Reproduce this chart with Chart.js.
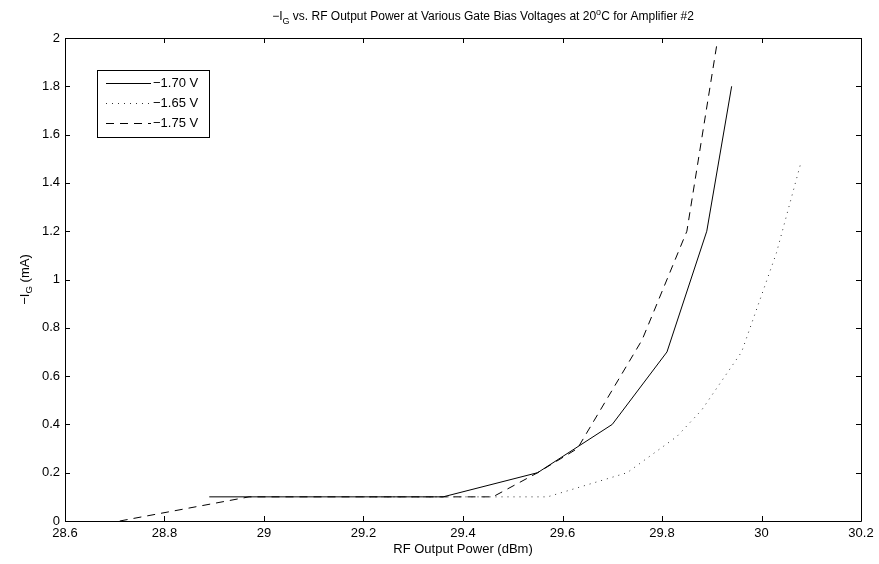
<!DOCTYPE html>
<html>
<head>
<meta charset="utf-8">
<script src="https://cdn.jsdelivr.net/npm/chart.js@4"></script>
<style>
  html, body { margin: 0; padding: 0; background: #ffffff; }
  #chart { display: block; }
</style>
</head>
<body>
<canvas id="chart" width="879" height="564"></canvas>
<script>
// -1.70 V gate bias (solid)
const powerBias170 = [28.89, 29.36, 29.55, 29.70, 29.81, 29.89, 29.94]
const currentBias170 = [0.1, 0.1, 0.2, 0.4, 0.7, 1.2, 1.8]

// -1.65 V gate bias (dotted)
const powerBias165 = [29.2, 29.57, 29.73, 29.83, 29.88, 29.96, 30.03, 30.08]
const currentBias165 = [0.1, 0.1, 0.2, 0.35, 0.46, 0.7, 1.11, 1.49]

// -1.75 V gate bias (dashed)
const powerBias175 = [28.71, 28.97, 29.46, 29.55, 29.63, 29.76, 29.85, 29.91]
const currentBias175 = [0, 0.1, 0.1, 0.2, 0.3, 0.75, 1.2, 1.97]

const seriesLabels = ["\u22121.70 V", "\u22121.65 V", "\u22121.75 V"]
const xTicks = [28.6, 28.8, 29, 29.2, 29.4, 29.6, 29.8, 30, 30.2]
const yTicks = [0, 0.2, 0.4, 0.6, 0.8, 1, 1.2, 1.4, 1.6, 1.8, 2]

const toPoints = (xs, ys) => xs.map((x, i) => ({ x: x, y: ys[i] }))

const FONT = "'Liberation Sans', Arial, Helvetica, sans-serif"

// draws text made of pieces, some of them sub- or superscript
function richWidth(ctx, parts, size) {
  let w = 0
  parts.forEach((p) => {
    const s = p.sub || p.sup ? size * 0.75 : size
    ctx.font = s + "px " + FONT
    w += ctx.measureText(p.t).width
  })
  return w
}

function drawRich(ctx, parts, x, y, size) {
  let cx = x
  parts.forEach((p) => {
    const s = p.sub || p.sup ? size * 0.75 : size
    let dy = 0
    if (p.sub) dy = size * 0.3
    if (p.sup) dy = -size * 0.4
    ctx.font = s + "px " + FONT
    ctx.fillText(p.t, cx, y + dy)
    cx += ctx.measureText(p.t).width
  })
}

const titleParts = [
  { t: "\u2212I" },
  { t: "G", sub: true },
  { t: " vs. RF Output Power at Various Gate Bias Voltages at 20" },
  { t: "o", sup: true },
  { t: "C for Amplifier #2" },
]
const yTitleParts = [{ t: "\u2212I" }, { t: "G", sub: true }, { t: " (mA)" }]
const xTitle = "RF Output Power (dBm)"

const matlabFrame = {
  id: "matlabFrame",
  afterDraw(chart) {
    const ctx = chart.ctx
    const a = chart.chartArea
    const xs = chart.scales.x
    const ys = chart.scales.y
    ctx.save()
    ctx.strokeStyle = "#000000"
    ctx.lineWidth = 1
    ctx.beginPath()
    ctx.rect(Math.round(a.left) + 0.5, Math.round(a.top) + 0.5,
      Math.round(a.right - a.left), Math.round(a.bottom - a.top))
    ctx.stroke()

    // inward ticks on all four sides
    const len = 5
    ctx.beginPath()
    xTicks.forEach((v) => {
      const px = Math.round(xs.getPixelForValue(v)) + 0.5
      ctx.moveTo(px, a.bottom)
      ctx.lineTo(px, a.bottom - len)
      ctx.moveTo(px, a.top)
      ctx.lineTo(px, a.top + len)
    })
    yTicks.forEach((v) => {
      const py = Math.round(ys.getPixelForValue(v)) + 0.5
      ctx.moveTo(a.left, py)
      ctx.lineTo(a.left + len, py)
      ctx.moveTo(a.right, py)
      ctx.lineTo(a.right - len, py)
    })
    ctx.stroke()

    // title
    ctx.fillStyle = "#000000"
    ctx.textBaseline = "alphabetic"
    ctx.textAlign = "left"
    const tSize = 12
    const tw = richWidth(ctx, titleParts, tSize)
    drawRich(ctx, titleParts, 483 - tw / 2, 20, tSize)

    // x axis title
    ctx.font = "13px " + FONT
    ctx.textAlign = "center"
    ctx.textBaseline = "middle"
    ctx.fillText(xTitle, (a.left + a.right) / 2, 549)

    // y axis title
    ctx.save()
    ctx.translate(25, (a.top + a.bottom) / 2)
    ctx.rotate(-Math.PI / 2)
    ctx.textAlign = "left"
    ctx.textBaseline = "middle"
    const yw = richWidth(ctx, yTitleParts, 13)
    drawRich(ctx, yTitleParts, -yw / 2, 0, 13)
    ctx.restore()

    // legend box
    const lx = 97, ly = 70, lw = 112, lh = 67
    ctx.fillStyle = "#ffffff"
    ctx.fillRect(lx, ly, lw, lh)
    ctx.strokeStyle = "#000000"
    ctx.lineWidth = 1
    ctx.strokeRect(lx + 0.5, ly + 0.5, lw, lh)
    chart.data.datasets.forEach((ds, i) => {
      const y = ly + 13.5 + i * 20
      ctx.save()
      ctx.strokeStyle = ds.borderColor
      ctx.lineWidth = ds.borderWidth
      ctx.setLineDash(ds.borderDash || [])
      ctx.beginPath()
      ctx.moveTo(106, y)
      ctx.lineTo(151, y)
      ctx.stroke()
      ctx.restore()
      ctx.fillStyle = "#000000"
      ctx.font = "13px " + FONT
      ctx.textAlign = "left"
      ctx.textBaseline = "middle"
      ctx.fillText(ds.label, 153, y)
    })
    ctx.restore()
  },
}

new Chart(document.getElementById("chart"), {
  type: "line",
  plugins: [matlabFrame],
  options: {
    responsive: false,
    animation: false,
    devicePixelRatio: 1,
    layout: {
      padding: { top: 38, right: 18, bottom: 0, left: 0 },
    },
    scales: {
      x: {
        type: "linear",
        min: 28.6,
        max: 30.2,
        afterFit: (scale) => {
          scale.height = 43
        },
        afterBuildTicks: (scale) => {
          scale.ticks = xTicks.map((v) => ({ value: v }))
        },
        ticks: {
          color: "#000000",
          padding: 5,
          maxRotation: 0,
          font: { family: FONT, size: 13 },
          callback: (v) => String(Number(v.toFixed(1))),
        },
        grid: { display: false, drawTicks: false },
        border: { display: false },
      },
      y: {
        type: "linear",
        min: 0,
        max: 2,
        afterFit: (scale) => {
          scale.width = 65
        },
        afterBuildTicks: (scale) => {
          scale.ticks = yTicks.map((v) => ({ value: v }))
        },
        ticks: {
          color: "#000000",
          padding: 5,
          font: { family: FONT, size: 13 },
          callback: (v) => String(Number(v.toFixed(1))),
        },
        grid: { display: false, drawTicks: false },
        border: { display: false },
      },
    },
    plugins: {
      legend: { display: false },
      title: { display: false },
      tooltip: { enabled: false },
    },
  },
  data: {
    datasets: [
      {
        label: seriesLabels[0],
        data: toPoints(powerBias170, currentBias170),
        borderColor: "#000000",
        borderWidth: 1,
        pointRadius: 0,
        tension: 0,
      },
      {
        label: seriesLabels[1],
        data: toPoints(powerBias165, currentBias165),
        borderColor: "#333333",
        borderWidth: 1,
        borderDash: [1, 5],
        pointRadius: 0,
        tension: 0,
      },
      {
        label: seriesLabels[2],
        data: toPoints(powerBias175, currentBias175),
        borderColor: "#000000",
        borderWidth: 1,
        borderDash: [8, 6],
        pointRadius: 0,
        tension: 0,
      },
    ],
  },
})
</script>
</body>
</html>
